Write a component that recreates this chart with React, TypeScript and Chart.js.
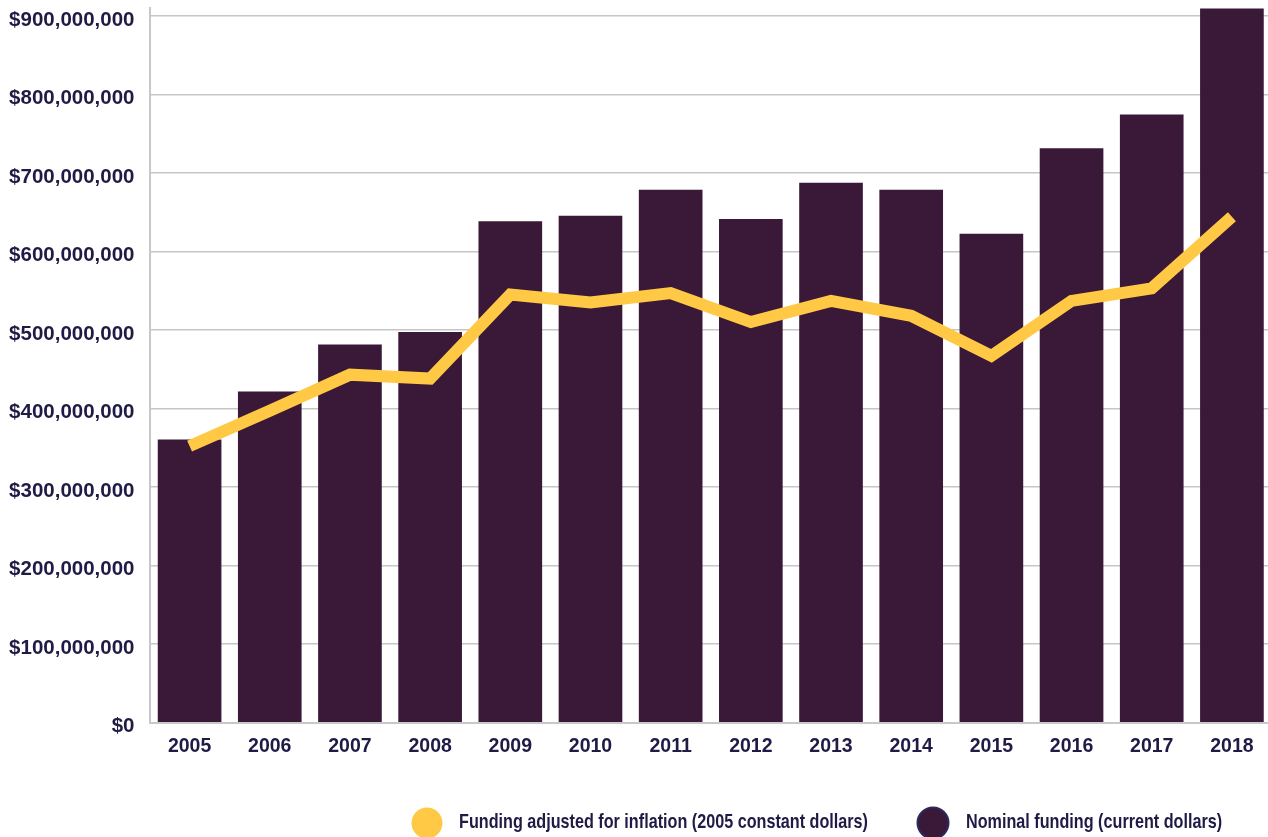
import { useEffect, useRef } from 'react';
import { Chart, registerables } from 'chart.js';

Chart.register(...registerables);

const years = ['2005', '2006', '2007', '2008', '2009', '2010', '2011', '2012', '2013', '2014', '2015', '2016', '2017', '2018'];
const nominalFunding = [360e6, 421e6, 481e6, 497e6, 638e6, 645e6, 678e6, 641e6, 687e6, 678e6, 622e6, 731e6, 774e6, 909e6];
const adjustedFunding = [352e6, 397e6, 443e6, 438e6, 545e6, 535e6, 547e6, 510e6, 537e6, 518e6, 467e6, 537e6, 553e6, 644e6];
const yTickValues = [0, 100e6, 200e6, 300e6, 400e6, 500e6, 600e6, 700e6, 800e6, 900e6];
const yMax = 910e6;
const seriesLabels = ['Funding adjusted for inflation (2005 constant dollars)', 'Nominal funding (current dollars)'];

const TEXT = '#1f1b45';
const YELLOW = '#ffc845';
const PURPLE = '#3a1838';
const SANS = "'Liberation Sans', Arial, sans-serif";

const legendPlugin = {
  id: 'customLegend',
  afterDraw(chart: any) {
    const ctx = chart.ctx as CanvasRenderingContext2D;
    const items = [
      { cx: 427, tx: 459, fill: YELLOW, border: null as string | null },
      { cx: 933, tx: 966, fill: PURPLE, border: '#2c2a5c' },
    ];
    ctx.save();
    ctx.font = `bold 21px ${SANS}`;
    const firstWidth = ctx.measureText(chart.data.datasets[0].label).width;
    const sx = 409 / firstWidth;
    items.forEach((it, i) => {
      ctx.beginPath();
      ctx.arc(it.cx, 823, 15.5, 0, Math.PI * 2);
      ctx.fillStyle = it.fill;
      ctx.fill();
      if (it.border) {
        ctx.lineWidth = 2;
        ctx.strokeStyle = it.border;
        ctx.stroke();
      }
      ctx.save();
      ctx.translate(it.tx, 822);
      ctx.scale(sx, 1);
      ctx.fillStyle = TEXT;
      ctx.textAlign = 'left';
      ctx.textBaseline = 'middle';
      ctx.fillText(chart.data.datasets[i].label, 0, 0);
      ctx.restore();
    });
    ctx.restore();
  },
};

export default function App() {
  const ref = useRef<HTMLCanvasElement>(null);
  useEffect(() => {
    if (!ref.current) return;
    const chart = new Chart(ref.current, {
      type: 'bar',
      data: {
        labels: years,
        datasets: [
          {
            type: 'line',
            label: seriesLabels[0],
            data: adjustedFunding,
            borderColor: YELLOW,
            backgroundColor: YELLOW,
            borderWidth: 12,
            pointRadius: 0,
            tension: 0,
            borderJoinStyle: 'miter',
            borderCapStyle: 'butt',
          } as any,
          {
            type: 'bar',
            label: seriesLabels[1],
            data: nominalFunding,
            backgroundColor: PURPLE,
            borderWidth: 0,
            barThickness: 63,
          },
        ],
      },
      options: {
        responsive: false,
        animation: false,
        devicePixelRatio: 1,
        layout: { padding: { top: 8, left: 0, right: 0, bottom: 0 } },
        plugins: {
          legend: { display: false },
          tooltip: { enabled: false },
        },
        scales: {
          x: {
            grid: { display: false, drawTicks: false },
            border: { display: true, color: '#c8c8c8', width: 2 },
            ticks: {
              color: TEXT,
              font: { family: SANS, size: 19.5, weight: 'bold' },
              padding: 12,
            },
            afterFit(scale: any) {
              scale.height = 114.5;
              scale.paddingLeft = 0;
              scale.paddingRight = 0;
            },
          },
          y: {
            min: 0,
            max: yMax,
            grid: { color: '#c6c6c6', lineWidth: 1.5, drawTicks: false },
            border: { display: true, color: '#c8c8c8', width: 2 },
            afterBuildTicks(scale: any) {
              scale.ticks = yTickValues.map((v) => ({ value: v }));
            },
            ticks: {
              color: TEXT,
              padding: 15,
              labelOffset: 4,
              font: { family: SANS, size: 20.5, weight: 'bold' },
              callback: (v: any) => '$' + Number(v).toLocaleString('en-US'),
            },
            afterFit(scale: any) {
              scale.width = 149.5;
              scale.paddingTop = 0;
              scale.paddingBottom = 0;
            },
          },
        },
      },
      plugins: [legendPlugin],
    });
    return () => chart.destroy();
  }, []);
  return (
    <div style={{ position: 'fixed', left: 0, top: 0, width: 1268, height: 837, overflow: 'hidden', background: '#fff' }}>
      <canvas ref={ref} width={1272} height={837} style={{ display: 'block', width: 1272, height: 837 }} />
    </div>
  );
}
